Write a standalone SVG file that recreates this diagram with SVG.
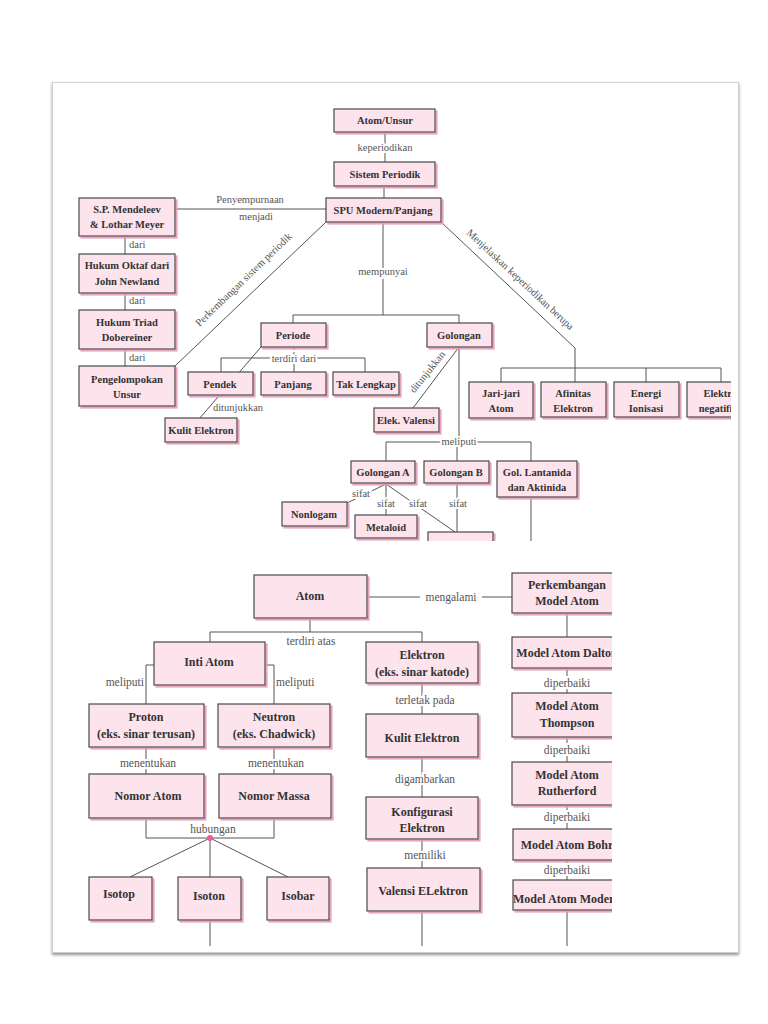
<svg xmlns="http://www.w3.org/2000/svg" width="768" height="1024" viewBox="0 0 768 1024">
<style>
.bx{fill:#fce3ec;stroke:#4a4a4a;stroke-width:1.2;filter:url(#sh)}
.t{font-family:"Liberation Serif","DejaVu Serif",serif;font-weight:bold;font-size:10.5px;fill:#333;text-anchor:middle}
.tb{font-family:"Liberation Serif","DejaVu Serif",serif;font-weight:bold;font-size:12px;fill:#333;text-anchor:middle}
.l{font-family:"Liberation Serif","DejaVu Serif",serif;font-size:10.5px;fill:#555;text-anchor:middle}
.lb{font-family:"Liberation Serif","DejaVu Serif",serif;font-size:11.5px;fill:#555;text-anchor:middle}
.h{stroke:#fff;stroke-width:4px;paint-order:stroke}
.c{fill:none;stroke:#555;stroke-width:1}
</style>
<defs>
<filter id="sh" x="-10%" y="-10%" width="130%" height="140%">
<feDropShadow dx="2" dy="2" stdDeviation="0.7" flood-color="#e29bb6" flood-opacity="0.9"/>
</filter>
<filter id="ps" x="-5%" y="-5%" width="110%" height="110%">
<feDropShadow dx="0" dy="2" stdDeviation="1.5" flood-color="#777" flood-opacity="0.8"/>
</filter>
<clipPath id="ct"><rect x="52" y="82" width="679" height="459"/></clipPath>
<clipPath id="cb"><rect x="52" y="560" width="560" height="386"/></clipPath>
</defs>
<rect width="768" height="1024" fill="#fff"/>
<rect x="52.5" y="82.5" width="686" height="870" fill="#fff" stroke="#cfcfcf" filter="url(#ps)"/>

<g clip-path="url(#ct)">
<g id="connectors-top">
<line class="c" x1="385" y1="132" x2="385" y2="162"/>
<line class="c" x1="384" y1="186" x2="384" y2="198"/>
<line class="c" x1="175" y1="209" x2="326" y2="209"/>
<line class="c" x1="125" y1="236" x2="125" y2="254"/>
<line class="c" x1="125" y1="293" x2="125" y2="310"/>
<line class="c" x1="125" y1="349" x2="125" y2="366"/>
<line class="c" x1="175" y1="366" x2="326" y2="222"/>
<line class="c" x1="383" y1="222" x2="383" y2="315"/>
<polyline class="c" points="293,323 293,315 459,315 459,323"/>
<line class="c" x1="294" y1="347" x2="294" y2="358" stroke-dasharray="3,2"/>
<polyline class="c" points="221,372 221,358 365,358 365,372"/>
<line class="c" x1="294" y1="358" x2="294" y2="372"/>
<line class="c" x1="261" y1="347" x2="199" y2="419"/>
<line class="c" x1="459" y1="347" x2="459" y2="442"/>
<line class="c" x1="459" y1="347" x2="413" y2="408"/>
<polyline class="c" points="386,461 386,442 531,442 531,461"/>
<line class="c" x1="457" y1="442" x2="457" y2="461"/>
<line class="c" x1="386" y1="484" x2="347" y2="503"/>
<line class="c" x1="386" y1="484" x2="386" y2="515"/>
<line class="c" x1="386" y1="484" x2="455" y2="532"/>
<line class="c" x1="457" y1="483" x2="457" y2="532"/>
<line class="c" x1="531" y1="497" x2="531" y2="545"/>
<polyline class="c" points="441,222 575,348 575,368"/>
<polyline class="c" points="501,382 501,368 721,368 721,382"/>
<line class="c" x1="575" y1="368" x2="575" y2="382"/>
<line class="c" x1="646" y1="368" x2="646" y2="382"/>
<text class="l h" x="385" y="151">keperiodikan</text>
<text class="l" x="250" y="203">Penyempurnaan</text>
<text class="l" x="256" y="220">menjadi</text>
<text class="l" x="129" y="248" text-anchor="start" style="text-anchor:start">dari</text>
<text class="l" x="129" y="304" style="text-anchor:start">dari</text>
<text class="l" x="129" y="361" style="text-anchor:start">dari</text>
<text class="l" x="0" y="0" font-size="11" transform="translate(246,282) rotate(-44)">Perkembangan sistem periodik</text>
<text class="l h" x="383" y="275">mempunyai</text>
<text class="l h" x="294" y="362">terdiri dari</text>
<text class="l" x="238" y="411">ditunjukkan</text>
<text class="l" x="0" y="0" transform="translate(430,374) rotate(-51)">ditunjukkan</text>
<text class="l h" x="459" y="445">meliputi</text>
<text class="l h" x="361" y="497">sifat</text>
<text class="l h" x="386" y="507">sifat</text>
<text class="l h" x="418" y="507">sifat</text>
<text class="l h" x="458" y="507">sifat</text>
<text class="l" x="0" y="0" font-size="11" transform="translate(518,282) rotate(43)">Menjelaskan keperiodikan berupa</text>
</g>

<g id="n-atomunsur"><rect class="bx" x="334" y="109" width="101" height="23"/><text class="t" x="385" y="124">Atom/Unsur</text></g>
<g id="n-sistem"><rect class="bx" x="334" y="162" width="101" height="24"/><text class="t" x="385" y="178">Sistem  Periodik</text></g>
<g id="n-spu"><rect class="bx" x="326" y="198" width="115" height="24"/><text class="t" x="383" y="214">SPU Modern/Panjang</text></g>
<g id="n-mendeleev"><rect class="bx" x="79" y="198" width="96" height="38"/><text class="t" x="127" y="213">S.P. Mendeleev</text><text class="t" x="127" y="228">&amp; Lothar Meyer</text></g>
<g id="n-oktaf"><rect class="bx" x="79" y="254" width="96" height="39"/><text class="t" x="127" y="269">Hukum Oktaf dari</text><text class="t" x="127" y="285">John Newland</text></g>
<g id="n-triad"><rect class="bx" x="79" y="310" width="96" height="39"/><text class="t" x="127" y="326">Hukum Triad</text><text class="t" x="127" y="341">Dobereiner</text></g>
<g id="n-pengelompokan"><rect class="bx" x="79" y="366" width="96" height="40"/><text class="t" x="127" y="383">Pengelompokan</text><text class="t" x="127" y="398">Unsur</text></g>
<g id="n-periode"><rect class="bx" x="261" y="323" width="65" height="24"/><text class="t" x="293" y="339">Periode</text></g>
<g id="n-golongan"><rect class="bx" x="427" y="323" width="65" height="24"/><text class="t" x="459" y="339">Golongan</text></g>
<g id="n-pendek"><rect class="bx" x="188" y="372" width="65" height="23"/><text class="t" x="220" y="388">Pendek</text></g>
<g id="n-panjang"><rect class="bx" x="261" y="372" width="65" height="23"/><text class="t" x="293" y="388">Panjang</text></g>
<g id="n-taklengkap"><rect class="bx" x="333" y="372" width="66" height="23"/><text class="t" x="366" y="388">Tak Lengkap</text></g>
<g id="n-kulit1"><rect class="bx" x="165" y="418" width="72" height="24"/><text class="t" x="201" y="434">Kulit Elektron</text></g>
<g id="n-valensi1"><rect class="bx" x="374" y="408" width="65" height="24"/><text class="t" x="406" y="424">Elek. Valensi</text></g>
<g id="n-jari"><rect class="bx" x="469" y="382" width="64" height="36"/><text class="t" x="501" y="397">Jari-jari</text><text class="t" x="501" y="412">Atom</text></g>
<g id="n-afinitas"><rect class="bx" x="541" y="382" width="65" height="35"/><text class="t" x="573" y="397">Afinitas</text><text class="t" x="573" y="412">Elektron</text></g>
<g id="n-energi"><rect class="bx" x="614" y="382" width="65" height="35"/><text class="t" x="646" y="397">Energi</text><text class="t" x="646" y="412">Ionisasi</text></g>
<g id="n-elektronegatifitas"><rect class="bx" x="687" y="382" width="70" height="35"/><text class="t" x="722" y="397">Elektro-</text><text class="t" x="722" y="412">negatifitas</text></g>
<g id="n-gola"><rect class="bx" x="351" y="461" width="64" height="22"/><text class="t" x="383" y="476">Golongan A</text></g>
<g id="n-golb"><rect class="bx" x="424" y="461" width="65" height="22"/><text class="t" x="456" y="476">Golongan B</text></g>
<g id="n-gollan"><rect class="bx" x="497" y="461" width="80" height="36"/><text class="t" x="537" y="476">Gol. Lantanida</text><text class="t" x="537" y="491">dan Aktinida</text></g>
<g id="n-nonlogam"><rect class="bx" x="282" y="502" width="65" height="24"/><text class="t" x="314" y="518">Nonlogam</text></g>
<g id="n-metaloid"><rect class="bx" x="355" y="515" width="62" height="23"/><text class="t" x="386" y="531">Metaloid</text></g>
<g id="n-hidden"><rect class="bx" x="428" y="532" width="65" height="24"/></g>
</g>

<g clip-path="url(#cb)">
<g id="connectors-bottom">
<line class="c" x1="367" y1="597" x2="420" y2="597"/>
<line class="c" x1="482" y1="597" x2="512" y2="597"/>
<line class="c" x1="567" y1="613" x2="567" y2="637"/>
<line class="c" x1="567" y1="668" x2="567" y2="693"/>
<line class="c" x1="567" y1="737" x2="567" y2="762"/>
<line class="c" x1="567" y1="805" x2="567" y2="829"/>
<line class="c" x1="567" y1="860" x2="567" y2="880"/>
<line class="c" x1="567" y1="910" x2="567" y2="946"/>
<line class="c" x1="310" y1="618" x2="310" y2="632"/>
<polyline class="c" points="210,642 210,632 422,632 422,642"/>
<polyline class="c" points="154,665 146,665 146,704"/>
<polyline class="c" points="265,665 274,665 274,704"/>
<line class="c" x1="146" y1="747" x2="146" y2="774"/>
<line class="c" x1="274" y1="747" x2="274" y2="774"/>
<polyline class="c" points="146,818 146,838 274,838 274,818"/>
<line class="c" x1="210" y1="838" x2="130" y2="877"/>
<line class="c" x1="210" y1="838" x2="210" y2="877"/>
<line class="c" x1="210" y1="838" x2="288" y2="877"/>
<line class="c" x1="210" y1="920" x2="210" y2="946"/>
<line class="c" x1="422" y1="683" x2="422" y2="714"/>
<line class="c" x1="422" y1="757" x2="422" y2="797"/>
<line class="c" x1="422" y1="839" x2="422" y2="868"/>
<line class="c" x1="422" y1="911" x2="422" y2="946"/>
<circle cx="210" cy="838" r="3" fill="#e8609a"/>
<text class="lb" x="451" y="601">mengalami</text>
<text class="lb h" x="567" y="687">diperbaiki</text>
<text class="lb h" x="567" y="754">diperbaiki</text>
<text class="lb h" x="567" y="821">diperbaiki</text>
<text class="lb h" x="567" y="874">diperbaiki</text>
<text class="lb" x="311" y="645">terdiri atas</text>
<text class="lb" x="144" y="686" style="text-anchor:end">meliputi</text>
<text class="lb" x="276" y="686" style="text-anchor:start">meliputi</text>
<text class="lb h" x="148" y="767">menentukan</text>
<text class="lb h" x="276" y="767">menentukan</text>
<text class="lb" x="213" y="833">hubungan</text>
<text class="lb h" x="425" y="704">terletak pada</text>
<text class="lb h" x="425" y="783">digambarkan</text>
<text class="lb h" x="425" y="859">memiliki</text>
</g>

<g id="n-atom"><rect class="bx" x="254" y="575" width="113" height="43"/><text class="tb" x="310" y="600">Atom</text></g>
<g id="n-perkembangan"><rect class="bx" x="512" y="573" width="110" height="40"/><text class="tb" x="567" y="589">Perkembangan</text><text class="tb" x="567" y="605">Model Atom</text></g>
<g id="n-dalton"><rect class="bx" x="512" y="637" width="110" height="31"/><text class="tb" x="567" y="657">Model Atom Dalton</text></g>
<g id="n-thompson"><rect class="bx" x="512" y="693" width="110" height="44"/><text class="tb" x="567" y="710">Model Atom</text><text class="tb" x="567" y="727">Thompson</text></g>
<g id="n-rutherford"><rect class="bx" x="512" y="762" width="110" height="43"/><text class="tb" x="567" y="779">Model Atom</text><text class="tb" x="567" y="795">Rutherford</text></g>
<g id="n-bohr"><rect class="bx" x="513" y="829" width="110" height="31"/><text class="tb" x="567" y="849">Model Atom Bohr</text></g>
<g id="n-modern"><rect class="bx" x="513" y="880" width="110" height="30"/><text class="tb" x="567" y="903">Model Atom Modern</text></g>
<g id="n-inti"><rect class="bx" x="154" y="642" width="111" height="43"/><text class="tb" x="209" y="666">Inti Atom</text></g>
<g id="n-elektron"><rect class="bx" x="366" y="642" width="112" height="41"/><text class="tb" x="422" y="659">Elektron</text><text class="tb" x="422" y="676">(eks. sinar katode)</text></g>
<g id="n-proton"><rect class="bx" x="89" y="704" width="115" height="43"/><text class="tb" x="146" y="721">Proton</text><text class="tb" x="146" y="738">(eks. sinar terusan)</text></g>
<g id="n-neutron"><rect class="bx" x="218" y="704" width="112" height="43"/><text class="tb" x="274" y="721">Neutron</text><text class="tb" x="274" y="738">(eks. Chadwick)</text></g>
<g id="n-nomoratom"><rect class="bx" x="89" y="774" width="115" height="44"/><text class="tb" x="148" y="800">Nomor Atom</text></g>
<g id="n-nomormassa"><rect class="bx" x="219" y="774" width="112" height="44"/><text class="tb" x="274" y="800">Nomor  Massa</text></g>
<g id="n-kulit2"><rect class="bx" x="366" y="714" width="112" height="43"/><text class="tb" x="422" y="742">Kulit Elektron</text></g>
<g id="n-konfig"><rect class="bx" x="366" y="797" width="112" height="42"/><text class="tb" x="422" y="816">Konfigurasi</text><text class="tb" x="422" y="832">Elektron</text></g>
<g id="n-valensi2"><rect class="bx" x="367" y="868" width="113" height="43"/><text class="tb" x="423" y="895">Valensi   ELektron</text></g>
<g id="n-isotop"><rect class="bx" x="89" y="877" width="63" height="43"/><text class="tb" x="119" y="898">Isotop</text></g>
<g id="n-isoton"><rect class="bx" x="178" y="877" width="63" height="43"/><text class="tb" x="209" y="900">Isoton</text></g>
<g id="n-isobar"><rect class="bx" x="267" y="877" width="62" height="43"/><text class="tb" x="298" y="900">Isobar</text></g>
</g>
</svg>
